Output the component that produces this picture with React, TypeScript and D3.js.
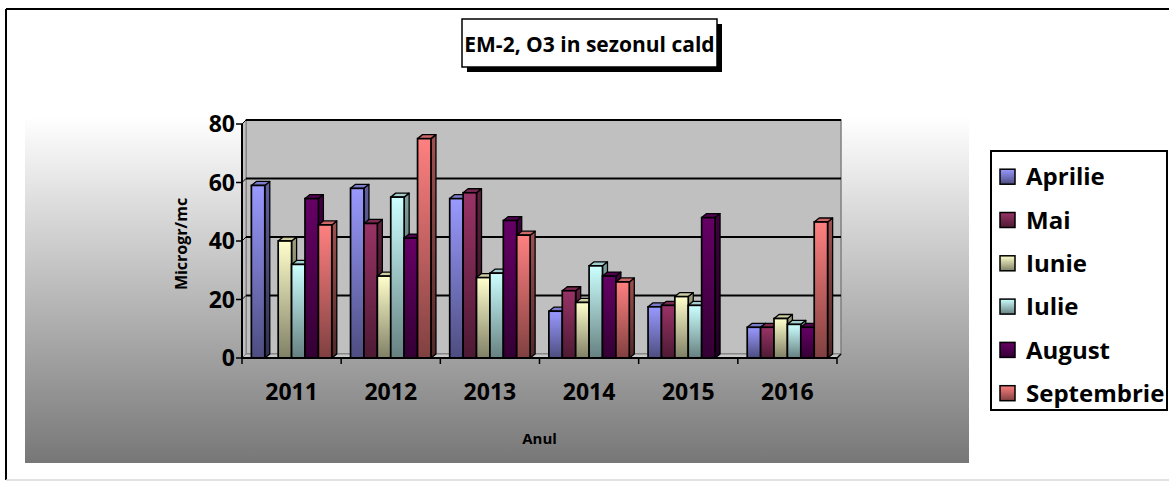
import React from 'react'
import * as d3 from 'd3'

const years = ['2011', '2012', '2013', '2014', '2015', '2016']
const months = ['Aprilie', 'Mai', 'Iunie', 'Iulie', 'August', 'Septembrie']
const aprilie = [59, 58, 54.5, 16, 17.5, 10.5]
const mai = [null, 46, 56.5, 23, 18, 10.5]
const iunie = [40, 28, 27.5, 19, 21, 13.5]
const iulie = [32, 55, 29, 31.5, 18, 11.5]
const august = [54.5, 41, 47, 28, 48, 10.5]
const septembrie = [45.5, 75, 42, 26, null, 46.5]
const yTicks = [0, 20, 40, 60, 80]

const seriesValues = [aprilie, mai, iunie, iulie, august, septembrie]
const topColors = ['#9999ff', '#993366', '#ffffcc', '#ccffff', '#660066', '#ff8080']
const bottomColors = ['#4d4d80', '#4d1a33', '#808066', '#668080', '#330033', '#804040']

const W = 1169
const H = 481
const font = "'Open Sans', 'DejaVu Sans', sans-serif"

export default function App() {
    // plot geometry (front plane)
    const x0 = d3.scaleBand<string>().domain(years).range([242, 837])
    const x1 = d3
        .scaleBand<string>()
        .domain(months)
        .range([0, x0.bandwidth()])
        .paddingInner(0)
        .paddingOuter(0.7)
    const y = d3.scaleLinear().domain([0, 80]).range([358, 124])

    // 3D depth offsets
    const wdx = 4
    const wdy = -4
    const bdx = 5
    const bdy = -4

    const left = x0.range()[0]
    const right = x0.range()[1]

    const bars: React.ReactNode[] = []
    years.forEach((yr, yi) => {
        months.forEach((m, mi) => {
            const v = seriesValues[mi][yi]
            if (v == null) return
            const bx = x0(yr)! + x1(m)!
            const bw = x1.bandwidth()
            const top = y(v)
            const bottom = y(0)
            const side = `M${bx + bw},${bottom} L${bx + bw + bdx},${bottom + bdy} L${bx + bw + bdx},${top + bdy} L${bx + bw},${top} Z`
            const cap = `M${bx},${top} L${bx + bdx},${top + bdy} L${bx + bw + bdx},${top + bdy} L${bx + bw},${top} Z`
            bars.push(
                <g key={`${yr}-${m}`}>
                    <path d={side} fill={`url(#side${mi})`} stroke="#000" strokeWidth={1.3} strokeLinejoin="round" />
                    <path d={cap} fill={d3.color(topColors[mi])!.darker(0.6).formatHex()} stroke="#000" strokeWidth={1.3} strokeLinejoin="round" />
                    <rect x={bx} y={top} width={bw} height={bottom - top} fill={`url(#front${mi})`} stroke="#000" strokeWidth={1.7} />
                </g>,
            )
        })
    })

    return (
        <div style={{ position: 'absolute', left: 0, top: 0 }}>
            <svg width={W} height={H} style={{ display: 'block', background: '#fff' }} fontFamily={font}>
                <defs>
                    <linearGradient id="areaGrad" x1="0" y1="0" x2="0" y2="1">
                        <stop offset="0%" stopColor="#ffffff" />
                        <stop offset="100%" stopColor="#777777" />
                    </linearGradient>
                    {months.map((m, i) => (
                        <linearGradient key={'f' + m} id={`front${i}`} x1="0" y1="0" x2="0" y2="1">
                            <stop offset="0%" stopColor={topColors[i]} />
                            <stop offset="100%" stopColor={bottomColors[i]} />
                        </linearGradient>
                    ))}
                    {months.map((m, i) => (
                        <linearGradient key={'s' + m} id={`side${i}`} x1="0" y1="0" x2="0" y2="1">
                            <stop offset="0%" stopColor={d3.color(topColors[i])!.darker(1.3).formatHex()} />
                            <stop offset="100%" stopColor={d3.color(bottomColors[i])!.darker(1.3).formatHex()} />
                        </linearGradient>
                    ))}
                </defs>

                {/* outer frame */}
                <line x1={6} y1={9} x2={W} y2={9} stroke="#000" strokeWidth={2} />
                <line x1={6} y1={9} x2={6} y2={480} stroke="#000" strokeWidth={2} />
                <line x1={6} y1={480} x2={W} y2={480} stroke="#d8d8d8" strokeWidth={1.5} />

                {/* chart area gradient */}
                <rect x={25} y={117} width={944} height={346} fill="url(#areaGrad)" />

                {/* back wall */}
                <rect
                    x={left + wdx}
                    y={y(80) + wdy}
                    width={right - left}
                    height={y(0) - y(80)}
                    fill="#c0c0c0"
                    stroke="#808080"
                    strokeWidth={1.5}
                />
                {/* side wall */}
                <path
                    d={`M${left},${y(0)} L${left},${y(80)} L${left + wdx},${y(80) + wdy} L${left + wdx},${y(0) + wdy} Z`}
                    fill="#c0c0c0"
                    stroke="#808080"
                    strokeWidth={1}
                />
                {/* floor */}
                <path
                    d={`M${left},${y(0)} L${right},${y(0)} L${right + wdx},${y(0) + wdy} L${left + wdx},${y(0) + wdy} Z`}
                    fill="#c8c8c8"
                    stroke="#808080"
                    strokeWidth={1}
                />

                {/* gridlines */}
                {yTicks
                    .filter((t) => t > 0)
                    .map((t) => (
                        <g key={'g' + t}>
                            <line x1={left + wdx} x2={right + wdx} y1={y(t) + wdy} y2={y(t) + wdy} stroke="#000" strokeWidth={2} />
                            <line x1={left} x2={left + wdx} y1={y(t)} y2={y(t) + wdy} stroke="#000" strokeWidth={1} />
                        </g>
                    ))}

                {bars}

                {/* y axis */}
                <line x1={left} x2={left} y1={y(0)} y2={y(80)} stroke="#000" strokeWidth={2} />
                {yTicks.map((t) => (
                    <g key={'t' + t}>
                        <line x1={left - 6} x2={left} y1={y(t)} y2={y(t)} stroke="#000" strokeWidth={1.5} />
                        <text x={left - 7} y={y(t)} dy="0.36em" textAnchor="end" fontSize={23} fontWeight="bold">
                            {t}
                        </text>
                    </g>
                ))}

                {/* x axis */}
                <line x1={left} x2={right} y1={y(0)} y2={y(0)} stroke="#000" strokeWidth={2} />
                {years.map((yr) => (
                    <line key={'xt' + yr} x1={x0(yr)!} x2={x0(yr)!} y1={y(0)} y2={y(0) + 6} stroke="#000" strokeWidth={1.5} />
                ))}
                <line x1={right} x2={right} y1={y(0)} y2={y(0) + 6} stroke="#000" strokeWidth={1.5} />
                <line x1={right} x2={right + wdx} y1={y(0)} y2={y(0) + wdy} stroke="#000" strokeWidth={1.5} />
                {years.map((yr) => (
                    <text
                        key={'xl' + yr}
                        x={x0(yr)! + x0.bandwidth() / 2}
                        y={400}
                        textAnchor="middle"
                        fontSize={23}
                        fontWeight="bold"
                    >
                        {yr}
                    </text>
                ))}

                {/* axis titles */}
                <text x={(left + right) / 2} y={444} textAnchor="middle" fontSize={15} fontWeight="bold">
                    Anul
                </text>
                <text
                    transform={`translate(187,244) rotate(-90)`}
                    textAnchor="middle"
                    fontSize={16}
                    fontWeight="bold"
                >
                    Microgr/mc
                </text>

                {/* title */}
                <rect x={467} y={24} width={255} height={48} fill="#000" />
                <rect x={462} y={19} width={255} height={48} fill="#fff" stroke="#000" strokeWidth={1.5} />
                <text x={589.5} y={52} textAnchor="middle" fontSize={21} fontWeight="bold">
                    EM-2, O3 in sezonul cald
                </text>

                {/* legend */}
                <rect x={991} y={151} width={176} height={259} fill="#fff" stroke="#000" strokeWidth={2} />
                {months.map((m, i) => {
                    const cy = 176.7 + i * 43.3
                    return (
                        <g key={'lg' + m}>
                            <rect x={1000} y={cy - 7.5} width={15} height={15} fill={`url(#front${i})`} stroke="#000" strokeWidth={1.5} />
                            <text x={1026} y={cy} dy="0.36em" fontSize={24} fontWeight="bold">
                                {m}
                            </text>
                        </g>
                    )
                })}
            </svg>
        </div>
    )
}
